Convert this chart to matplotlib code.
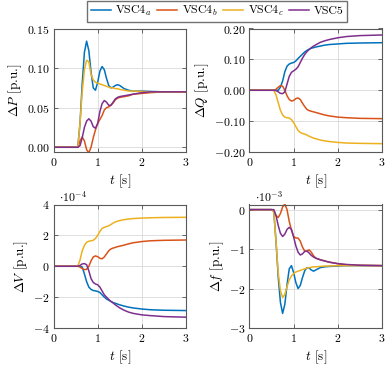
import matplotlib
matplotlib.use('Agg')
import matplotlib.pyplot as plt
from matplotlib.ticker import FuncFormatter

plt.rcParams['font.family'] = 'serif'
plt.rcParams['font.serif'] = ['cmr10']
plt.rcParams['mathtext.fontset'] = 'cm'
plt.rcParams['axes.formatter.use_mathtext'] = True
plt.rcParams['font.size'] = 8.5

# time grid [s]
t = [0, 0.5, 0.55, 0.6, 0.65, 0.7, 0.75, 0.8, 0.85, 0.9, 0.95, 1.0, 1.05, 1.1, 1.15,
     1.2, 1.25, 1.3, 1.35, 1.4, 1.45, 1.5, 1.6, 1.7, 1.8, 2.0, 2.2, 2.5, 3.0]

names = [r'VSC4$_a$', r'VSC4$_b$', r'VSC4$_c$', 'VSC5']
colors = ['#0072BD', '#D95319', '#EDB120', '#7E2F8E']

# dP [p.u.]
dP_a = [0, 0, 0, 0.03, 0.08, 0.12, 0.134, 0.122, 0.095, 0.075, 0.072, 0.082, 0.096, 0.102, 0.098,
        0.087, 0.078, 0.075, 0.076, 0.078, 0.079, 0.078, 0.074, 0.072, 0.071, 0.071, 0.0705, 0.07, 0.07]
dP_b = [0, 0, 0, 0.008, 0.013, 0.008, -0.003, -0.007, 0.0, 0.012, 0.022, 0.03, 0.035, 0.04, 0.047,
        0.05, 0.051, 0.053, 0.056, 0.06, 0.062, 0.063, 0.064, 0.065, 0.067, 0.068, 0.069, 0.07, 0.07]
dP_c = [0, 0, 0, 0.03, 0.07, 0.098, 0.11, 0.108, 0.092, 0.085, 0.082, 0.081, 0.08, 0.079, 0.078,
        0.077, 0.076, 0.075, 0.075, 0.074, 0.074, 0.073, 0.072, 0.071, 0.071, 0.0705, 0.07, 0.07, 0.07]
dP_5 = [0, 0, 0, 0.002, 0.012, 0.025, 0.033, 0.036, 0.033, 0.026, 0.024, 0.03, 0.045, 0.055, 0.059,
        0.057, 0.053, 0.053, 0.057, 0.061, 0.063, 0.064, 0.065, 0.066, 0.067, 0.069, 0.07, 0.07, 0.07]

# dQ [p.u.]
dQ_a = [0, 0, 0, 0, 0, 0.01, 0.03, 0.06, 0.078, 0.085, 0.088, 0.09, 0.095, 0.103, 0.11,
        0.117, 0.124, 0.129, 0.133, 0.136, 0.138, 0.14, 0.143, 0.146, 0.148, 0.15, 0.152, 0.153, 0.154]
dQ_b = [0, 0, 0, 0.003, 0.01, 0.015, 0.013, 0.0, -0.018, -0.03, -0.035, -0.033, -0.027, -0.025, -0.03,
        -0.042, -0.053, -0.062, -0.066, -0.068, -0.07, -0.072, -0.076, -0.08, -0.083, -0.087, -0.089, -0.091, -0.092]
dQ_c = [0, 0, 0, -0.015, -0.04, -0.065, -0.08, -0.087, -0.089, -0.09, -0.095, -0.105, -0.118, -0.13, -0.137,
        -0.14, -0.142, -0.145, -0.149, -0.152, -0.155, -0.157, -0.161, -0.164, -0.166, -0.169, -0.171, -0.172, -0.173]
dQ_5 = [0, 0, 0, -0.001, -0.005, -0.01, -0.011, -0.005, 0.02, 0.045, 0.058, 0.063, 0.068, 0.076, 0.09,
        0.104, 0.116, 0.125, 0.132, 0.138, 0.143, 0.147, 0.155, 0.16, 0.164, 0.17, 0.174, 0.177, 0.179]

# dV [1e-4 p.u.]
dV_a = [0, 0, 0, 0, -0.05, -0.5, -1.0, -1.35, -1.5, -1.57, -1.6, -1.63, -1.7, -1.85, -2.0,
        -2.12, -2.2, -2.28, -2.35, -2.4, -2.45, -2.5, -2.58, -2.65, -2.7, -2.77, -2.82, -2.85, -2.87]
dV_b = [0, 0, 0, -0.05, -0.15, -0.22, -0.2, 0.0, 0.35, 0.6, 0.67, 0.62, 0.52, 0.48, 0.6,
        0.8, 1.0, 1.12, 1.18, 1.22, 1.27, 1.3, 1.37, 1.45, 1.52, 1.6, 1.65, 1.68, 1.7]
dV_c = [0, 0, 0, 0.4, 1.0, 1.35, 1.55, 1.62, 1.65, 1.68, 1.8, 2.0, 2.25, 2.45, 2.52,
        2.57, 2.62, 2.7, 2.8, 2.87, 2.92, 2.96, 3.02, 3.06, 3.09, 3.12, 3.14, 3.16, 3.17]
dV_5 = [0, 0, 0, 0.05, 0.15, 0.17, 0.1, -0.3, -0.8, -1.05, -1.15, -1.2, -1.35, -1.6, -1.85,
        -2.0, -2.15, -2.28, -2.38, -2.5, -2.6, -2.7, -2.85, -2.97, -3.05, -3.15, -3.2, -3.26, -3.3]

# df [1e-3 p.u.]
df_a = [0, 0, -0.05, -0.8, -1.7, -2.35, -2.63, -2.4, -1.9, -1.5, -1.42, -1.6, -1.85, -2.0, -1.92,
        -1.72, -1.55, -1.47, -1.48, -1.53, -1.56, -1.53, -1.47, -1.45, -1.44, -1.43, -1.42, -1.42, -1.42]
df_b = [0, 0, -0.02, -0.15, -0.2, -0.1, 0.07, 0.14, 0.0, -0.3, -0.52, -0.68, -0.72, -0.72, -0.8,
        -0.95, -1.05, -1.05, -1.02, -1.08, -1.17, -1.23, -1.27, -1.3, -1.33, -1.37, -1.4, -1.41, -1.42]
df_c = [0, 0, -0.05, -0.8, -1.6, -2.05, -2.23, -2.15, -1.95, -1.78, -1.68, -1.62, -1.58, -1.56, -1.54,
        -1.52, -1.5, -1.48, -1.47, -1.46, -1.45, -1.45, -1.44, -1.43, -1.43, -1.42, -1.42, -1.42, -1.42]
df_5 = [0, 0, 0, -0.15, -0.4, -0.6, -0.68, -0.62, -0.5, -0.45, -0.5, -0.7, -0.92, -1.08, -1.15,
        -1.12, -1.06, -1.05, -1.1, -1.16, -1.2, -1.23, -1.27, -1.3, -1.33, -1.37, -1.39, -1.41, -1.42]

panels = [
    ([dP_a, dP_b, dP_c, dP_5], r'$\Delta P$ [p.u.]', (-0.006, 0.15), [0, 0.05, 0.10, 0.15], '{:.2f}', None),
    ([dQ_a, dQ_b, dQ_c, dQ_5], r'$\Delta Q$ [p.u.]', (-0.2, 0.2), [-0.2, -0.1, 0, 0.1, 0.2], '{:.2f}', None),
    ([dV_a, dV_b, dV_c, dV_5], r'$\Delta V$ [p.u.]', (-4, 4), [-4, -2, 0, 2, 4], '{:.0f}', r'$\cdot 10^{-4}$'),
    ([df_a, df_b, df_c, df_5], r'$\Delta f$ [p.u.]', (-3, 0.13), [-3, -2, -1, 0], '{:.0f}', r'$\cdot 10^{-3}$'),
]

W, H = 390, 368
fig = plt.figure(figsize=(W / 100, H / 100), dpi=100)
boxes = [(53.5, 28.5), (249.5, 28.5), (53.5, 204.5), (249.5, 204.5)]
aw, ah = 132.5, 123.5

handles = []
for k, (series, ylab, ylim, yt, fmt, scale) in enumerate(panels):
    x0, y0 = boxes[k]
    ax = fig.add_axes([x0 / W, 1 - (y0 + ah) / H, aw / W, ah / H])
    for s, c in zip(series, colors):
        ln, = ax.plot(t, s, color=c, lw=1.1)
        if k == 0:
            handles.append(ln)
    ax.set_xlim(0, 3)
    ax.set_ylim(*ylim)
    ax.set_xticks([0, 1, 2, 3])
    ax.set_yticks(yt)
    ax.xaxis.set_major_formatter(FuncFormatter(lambda v, p: f'${v:.0f}$'))
    ax.yaxis.set_major_formatter(FuncFormatter(lambda v, p, f=fmt: '$' + f.format(v + 0.0) + '$'))
    ax.grid(True, color='0.85', lw=0.6)
    ax.set_axisbelow(True)
    ax.tick_params(direction='in', top=True, right=True, length=3, width=0.6,
                   color='0.3', labelsize=8.5, pad=3)
    for sp in ax.spines.values():
        sp.set_color('0.35')
        sp.set_linewidth(0.8)
    ax.set_xlabel(r'$t$ [s]', fontsize=9.5, labelpad=3)
    ax.set_ylabel(ylab, fontsize=9.5, labelpad=2)
    if scale:
        ax.text(0.04, 1.0, scale, transform=ax.transAxes, fontsize=8.5, ha='left', va='bottom')

fig.legend(handles, names, loc='upper center', bbox_to_anchor=(217 / W, 1 - 0.5 / H), ncol=4,
           fontsize=8.5, frameon=True, fancybox=False, edgecolor='0.3', handlelength=1.7,
           handletextpad=0.35, columnspacing=0.5, borderpad=0.3, borderaxespad=0.0)

fig.savefig('out.png', dpi=100)
